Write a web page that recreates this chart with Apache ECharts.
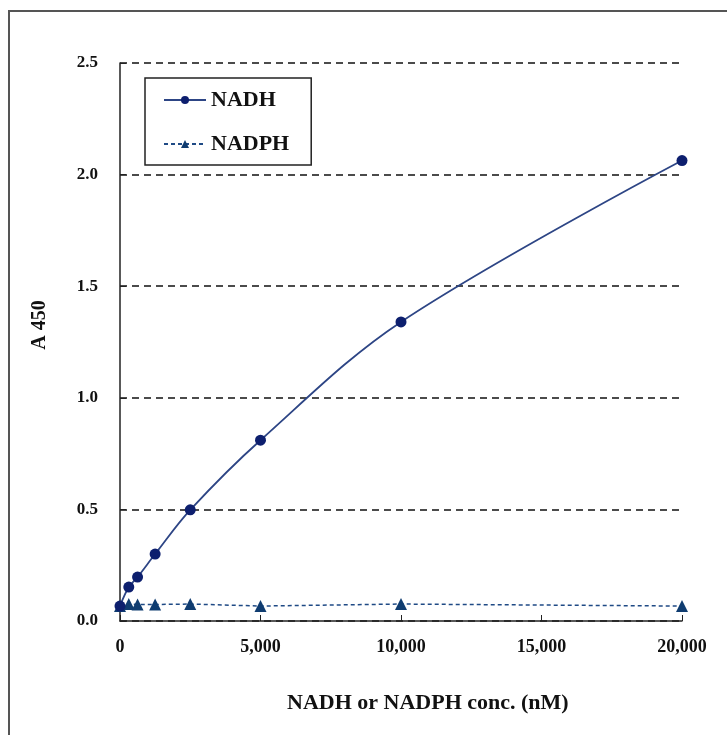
<!DOCTYPE html>
<html><head><meta charset="utf-8">
<script src="https://cdn.jsdelivr.net/npm/echarts@6/dist/echarts.min.js"></script>
<style>
html,body{margin:0;padding:0;background:#fff;overflow:hidden;}
#frame{position:absolute;left:8px;top:10px;width:800px;height:800px;border:2px solid #555;box-sizing:border-box;}
#c{position:absolute;left:0;top:0;width:727px;height:735px;}
</style></head>
<body>
<div id="frame"></div>
<div id="c"></div>
<script>
var concs = [0, 312.5, 625, 1250, 2500, 5000, 10000, 20000];
var nadh = [0.067, 0.152, 0.197, 0.30, 0.498, 0.81, 1.34, 2.063];
var nadph = [0.067, 0.076, 0.074, 0.074, 0.076, 0.067, 0.076, 0.067];
var xTicks = [0, 5000, 10000, 15000, 20000];
var yTicks = [0, 0.5, 1.0, 1.5, 2.0, 2.5];
var xTitle = 'NADH or NADPH conc. (nM)';
var yTitle = 'A 450';

var font = '"Liberation Serif","Times New Roman",serif';
var chart = echarts.init(document.getElementById('c'));
function pairs(xs, ys){ return xs.map(function(x,i){ return [x, ys[i]]; }); }
chart.setOption({
  backgroundColor: 'transparent',
  animation: false,
  grid: {left: 120, right: 45, top: 63, bottom: 114},
  legend: {
    orient: 'vertical', left: 145, top: 78,
    padding: [11, 22, 10, 18], itemGap: 22,
    itemWidth: 42, itemHeight: 10,
    borderColor: '#222', borderWidth: 1.5,
    textStyle: {fontFamily: font, fontWeight: 'bold', fontSize: 22, color: '#111'},
    data: ['NADH', 'NADPH']
  },
  graphic: [
    {type: 'text', left: 287, top: 692,
      style: {text: xTitle, font: 'bold 22px ' + font, fill: '#111'}},
    {type: 'text', x: 40, y: 325, rotation: Math.PI/2,
      style: {text: yTitle, font: 'bold 20px ' + font, fill: '#111', align: 'center', verticalAlign: 'middle'}}
  ],
  xAxis: {
    type: 'value', min: 0, max: 20000, interval: 5000,
    axisLine: {show: true, lineStyle: {color: '#222', width: 1.5}},
    axisTick: {show: true, inside: true, length: 6, lineStyle: {color: '#222'}},
    axisLabel: {fontFamily: font, fontWeight: 'bold', fontSize: 18, color: '#111', margin: 17,
      formatter: function(v){ return v.toLocaleString('en-US'); }},
    splitLine: {show: false}
  },
  yAxis: {
    type: 'value', min: 0, max: 2.5, interval: 0.5,
    axisLine: {show: true, lineStyle: {color: '#222', width: 1.5}},
    axisTick: {show: true, inside: true, length: 6, lineStyle: {color: '#222'}},
    axisLabel: {fontFamily: font, fontWeight: 'bold', fontSize: 17, color: '#111', margin: 22,
      formatter: function(v){ return v.toFixed(1); }},
    splitLine: {show: true, lineStyle: {color: '#111', type: [7, 5], width: 1.5}}
  },
  series: [
    {
      name: 'NADH', type: 'line', data: pairs(concs, nadh), smooth: 0.35,
      symbol: 'circle', symbolSize: 11,
      itemStyle: {color: '#0d1f6e'},
      lineStyle: {color: '#2d4585', width: 1.8},
      z: 3
    },
    {
      name: 'NADPH', type: 'line', data: pairs(concs, nadph),
      symbol: 'triangle', symbolSize: 12,
      itemStyle: {color: '#0f3c70'},
      lineStyle: {color: '#1f4a85', width: 1.5, type: [4, 3]},
      z: 2
    }
  ]
});
</script>
</body></html>
